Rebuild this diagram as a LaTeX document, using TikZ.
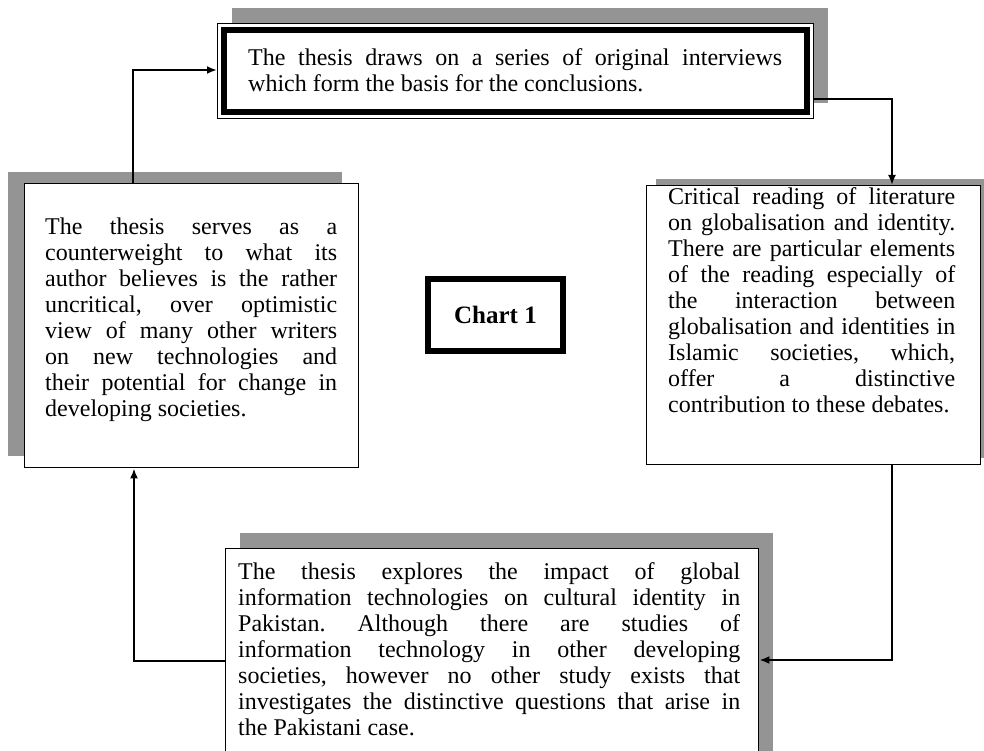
\documentclass[tikz,border=0pt]{standalone}
\usepackage{fontspec}
\setmainfont{Liberation Serif}
\usetikzlibrary{arrows.meta}
\begin{document}
\frenchspacing
\begin{tikzpicture}[x=1pt,y=-1pt,
  txt/.style={font=\fontsize{24}{26}\selectfont, align=justify, inner sep=0pt, anchor=north west},
  shadowfill/.style={fill=black!42, draw=none},
  plainbox/.style={fill=white, draw=black, line width=1.4pt, anchor=north west, inner sep=0pt},
  link/.style={line width=2.2pt, -{Latex[length=10pt,width=8pt]}}]
\useasboundingbox[fill=white] (0,0) rectangle (984,751);

% shadows behind the text boxes
\fill[shadowfill] (232,8) rectangle (828,103);
\fill[shadowfill] (8,172) rectangle (342,456);
\fill[shadowfill] (656,179) rectangle (990,458);
\fill[shadowfill] (240,533) rectangle (773,800);

% top box: thin outer line with a thick inner line
\node[plainbox, line width=1.2pt, minimum width=596, minimum height=95] (T) at (217,23) {};
\draw[line width=6pt] ([shift={(7,7)}]T.north west) rectangle ([shift={(-7,-7)}]T.south east);

% the other boxes
\node[plainbox, minimum width=334, minimum height=284] (L) at (24,183) {};
\node[plainbox, minimum width=334, minimum height=279] (R) at (646,185) {};
\node[plainbox, minimum width=533, minimum height=260] (B) at (225,548) {};
\node[plainbox, line width=6pt, minimum width=135, minimum height=72] (C) at (425,276) {};

% texts
\node[txt, text width=534pt] (Tt) at (248,48) {The thesis draws on a series of original interviews\linebreak which form the basis for the conclusions.};
\node[txt, text width=292pt] (Lt) at (45,218) {The thesis serves as a\linebreak counterweight to what its\linebreak author believes is the rather\linebreak uncritical, over optimistic\linebreak view of many other writers\linebreak on new technologies and\linebreak their potential for change in\linebreak developing societies.};
\node[txt, text width=287pt] (Rt) at (668,187) {Critical reading of literature\linebreak on globalisation and identity.\linebreak There are particular elements\linebreak of the reading especially of\linebreak the interaction between\linebreak globalisation and identities in\linebreak Islamic societies, which,\linebreak offer a distinctive\linebreak contribution to these debates.};
\node[txt, text width=502pt] (Bt) at (238,562) {The thesis explores the impact of global\linebreak information technologies on cultural identity in\linebreak Pakistan. Although there are studies of\linebreak information technology in other developing\linebreak societies, however no other study exists that\linebreak investigates the distinctive questions that arise in\linebreak the Pakistani case.};
\node[font=\fontsize{25}{28}\selectfont\bfseries, inner sep=0pt] (Ct) at (C.center) {Chart 1};

% bends of the connectors
\coordinate (k1) at (133,70);
\coordinate (k2) at (892,99);
\coordinate (k3) at (892,660);
\coordinate (k4) at (134,661);

% connectors
\draw[link] (L.north -| k1) |- (T.west |- k1);
\draw[link] (T.east |- k2) -| (R.north -| k2);
\draw[link] (R.south -| k3) |- (B.east |- k3);
\draw[link] (B.west |- k4) -| (L.south -| k4);
\end{tikzpicture}
\end{document}
